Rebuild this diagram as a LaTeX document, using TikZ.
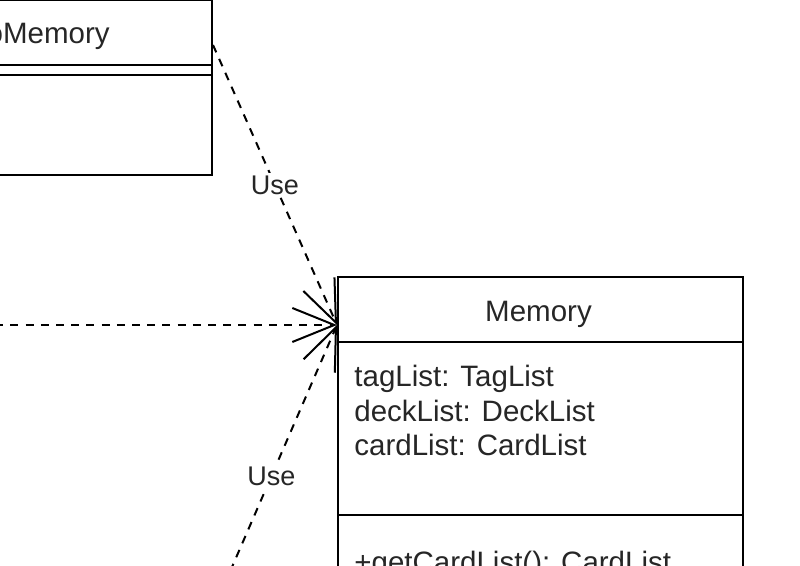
\documentclass[tikz,border=0pt]{standalone}
\usepackage{fontspec}
\setmainfont{Liberation Sans}
\usetikzlibrary{arrows.meta}

\tikzset{
  box/.style={draw, line width=1pt, minimum width=202.5pt, inner sep=0pt},
  title/.style={inner sep=0pt, text=black!85, font=\fontsize{14.75}{17.25}\selectfont},
  member/.style={title, anchor=north west, align=left},
  dep/.style={line width=1pt, dash pattern=on 4pt off 3.6pt},
  use label/.style={fill=white, inner sep=1.5pt, text=black!85, font=\fontsize{13.5}{16}\selectfont}
}

\begin{document}
\begin{tikzpicture}[x=0.5pt, y=-0.5pt, >={Straight Barb[length=21pt,width=17pt]}]

  \useasboundingbox (0,0) rectangle (800,566);
  \clip (0,0) rectangle (800,566);

  % class boxes
  \foreach \n/\y/\h in {head/32.5/32.5, attr/70/5, ops/125/50}
    \node [box, minimum height=\h pt] (upper-\n) at (9.5,\y) {};

  \foreach \n/\y/\h in {head/309.5/32.5, attr/428.5/86.5, ops/577.5/62.5}
    \node [box, minimum height=\h pt] (memory-\n) at (540.5,\y) {};

  \node [title, anchor=base east] (upper-name) at (110,43.5) {oMemory};
  \node [title, anchor=base] (memory-name) at (538.5,321.5) {Memory};
  \node [member] (memory-fields) at (354,365)
    {tagList: TagList\\deckList: DeckList\\cardList: CardList};
  \node [member] (memory-methods) at (354,551) {+getCardList(): CardList};

  % dependencies
  \coordinate (memory-in) at ([yshift=-7.75pt]memory-head.west);
  \coordinate (upper-out) at ([yshift=-6.25pt]upper-head.east);
  \coordinate (left-end) at (-20,325);
  \coordinate (bottom-end) at (206,627);

  \draw [dep, ->] (left-end) -- (memory-in);
  \draw [dep, ->] (upper-out) -- (memory-in)
    node [use label, midway] (use-top) {Use};
  \draw [dep, ->] (bottom-end) -- (memory-in)
    node [use label, midway] (use-bottom) {Use};

\end{tikzpicture}
\end{document}
